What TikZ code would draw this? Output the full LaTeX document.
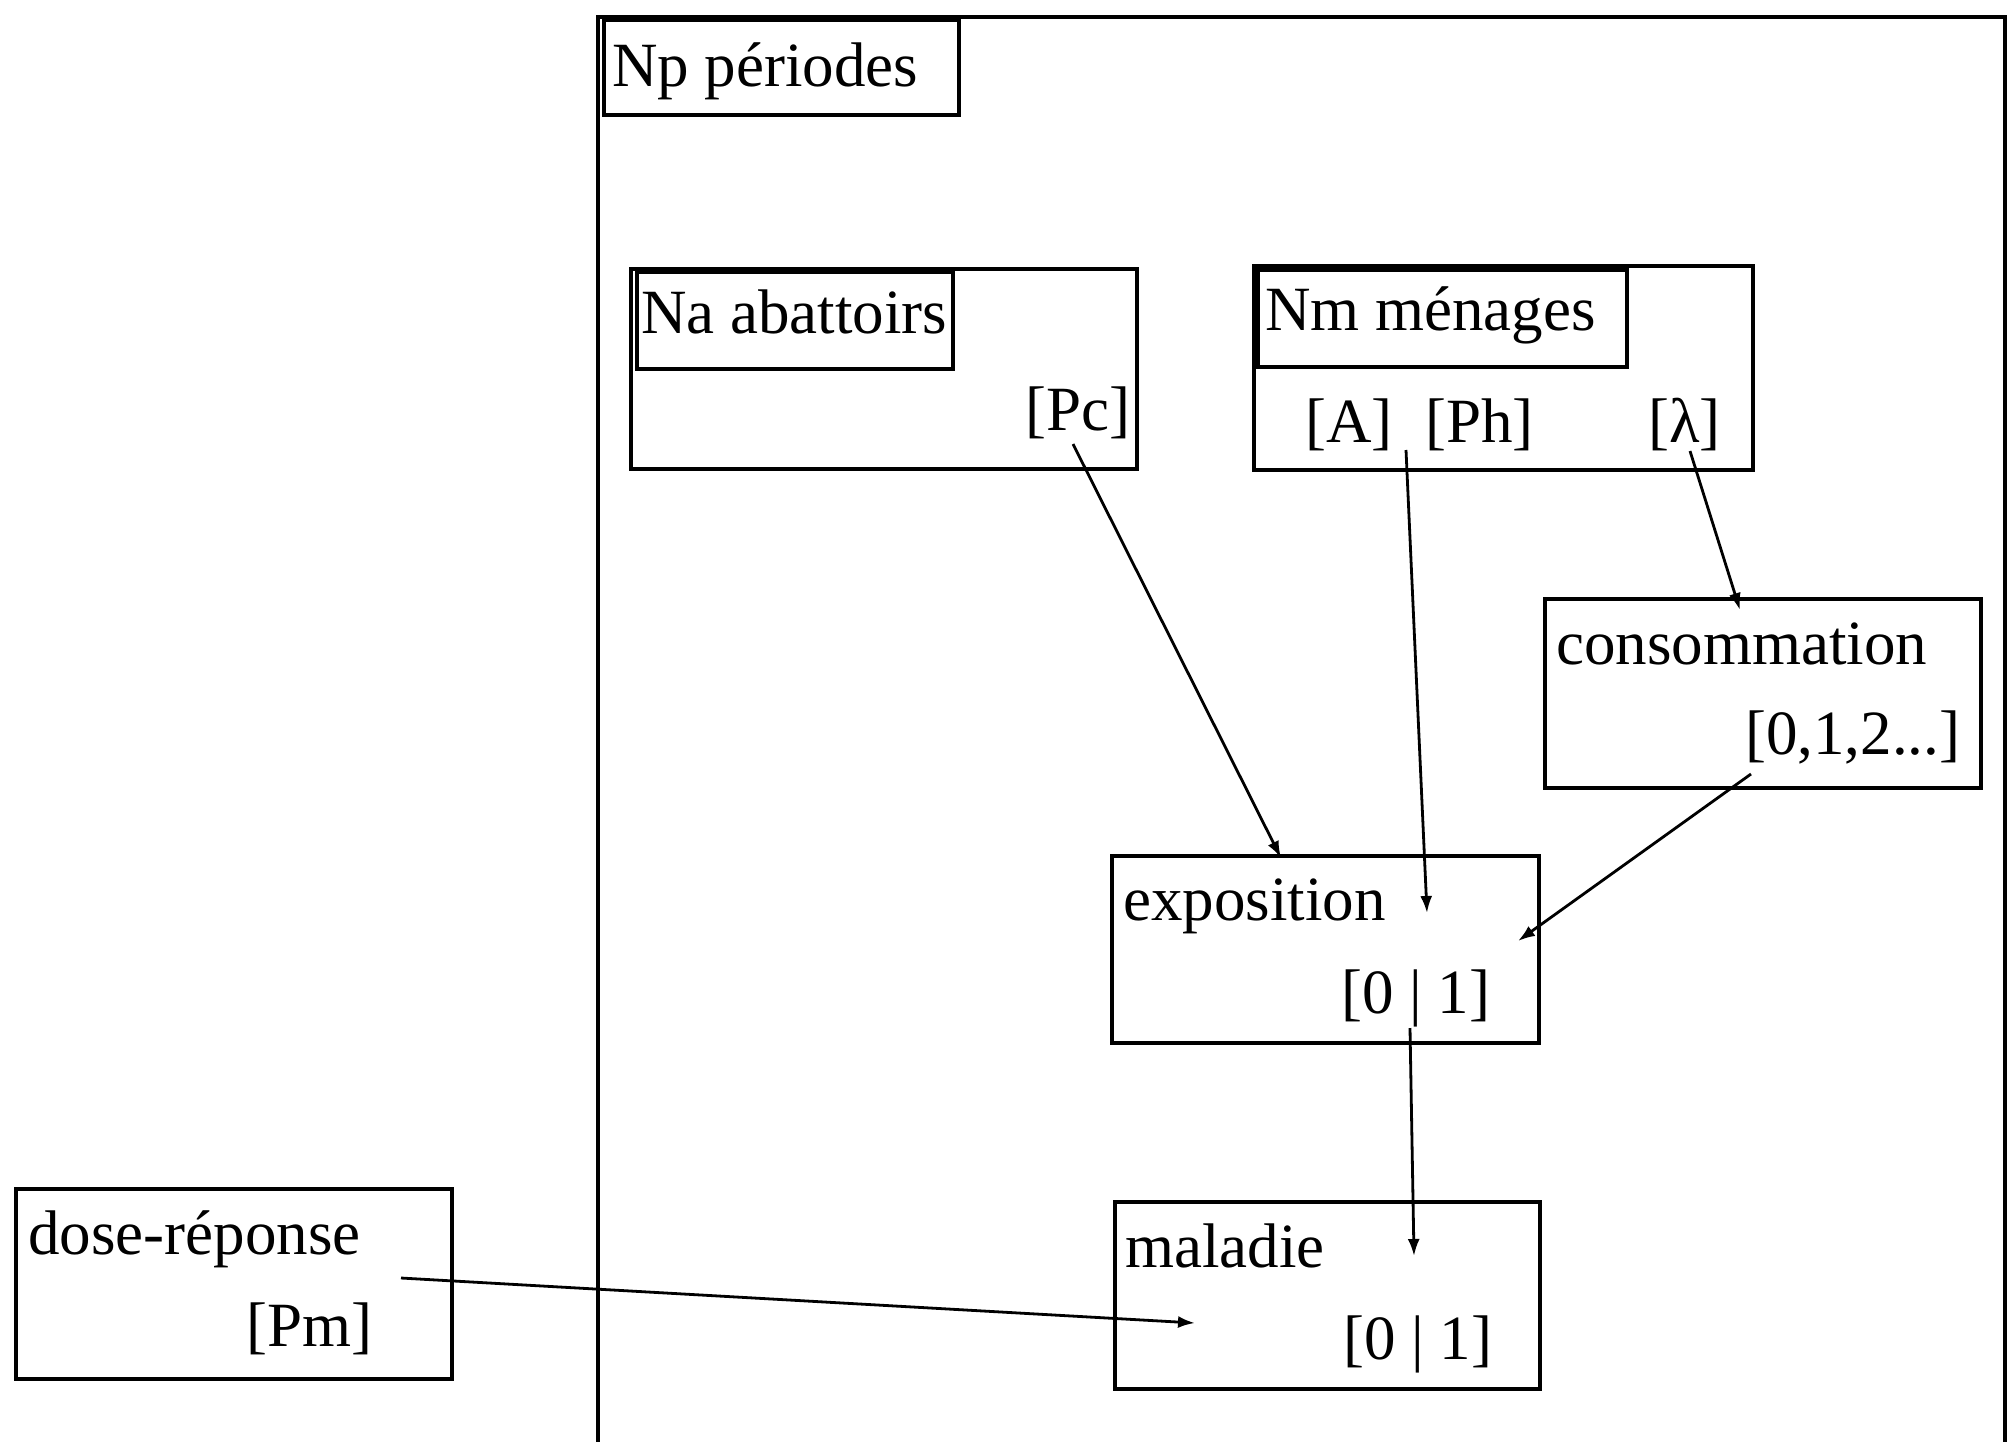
\documentclass[tikz,border=0pt]{standalone}
\usepackage{fontspec}
\setmainfont{Liberation Serif}
\usetikzlibrary{arrows.meta}
\tikzset{
  frame/.style={draw, line width=3.5pt},
  boxed/.style={draw, line width=3.5pt, rectangle, inner sep=0pt},
  lbl/.style={anchor=base west, inner sep=0pt, font=\fontsize{63}{75}\selectfont},
  conn/.style={line width=2.8pt, -{Latex[length=17pt,width=12pt]}}
}
\begin{document}
\begin{tikzpicture}[x=1pt,y=-1pt]
\useasboundingbox (0,0) rectangle (2010,1441);
% outer plate
\draw[frame] (598,1450) -- (598,17) -- (2005,17) -- (2005,1450);
\node[boxed, anchor=north west, minimum width=355pt, minimum height=95pt] (np) at (602,18) {};
\node[lbl] (nptxt) at (612,86) {Np périodes};
% abattoirs
\node[boxed, anchor=north west, minimum width=506pt, minimum height=200pt] (abat) at (629,267) {};
\node[boxed, anchor=north west, minimum width=316pt, minimum height=97pt] (abatin) at (635,270) {};
\node[lbl] (abattxt) at (641,333) {Na abattoirs};
\node[lbl] (pc) at (1025,430) {[Pc]};
% menages
\node[boxed, anchor=north west, minimum width=499pt, minimum height=204pt] (men) at (1252,264) {};
\node[boxed, anchor=north west, minimum width=369pt, minimum height=97pt] (menin) at (1256,268) {};
\node[lbl] (mentxt) at (1265,330) {Nm ménages};
\node[lbl] (a) at (1305,442) {[A]};
\node[lbl] (ph) at (1425,442) {[Ph]};
\node[lbl] (lam) at (1648,442) {[λ]};
% consommation
\node[boxed, anchor=north west, minimum width=436pt, minimum height=189pt] (cons) at (1543,597) {};
\node[lbl] (constxt) at (1556,664) {consommation};
\node[lbl] (consval) at (1745,754) {[0,1,2...]};
% exposition
\node[boxed, anchor=north west, minimum width=427pt, minimum height=187pt] (expo) at (1110,854) {};
\node[lbl] (expotxt) at (1123,920) {exposition};
\node[lbl] (expoval) at (1341,1013) {[0 | 1]};
% maladie
\node[boxed, anchor=north west, minimum width=425pt, minimum height=187pt] (mal) at (1113,1200) {};
\node[lbl] (maltxt) at (1125,1267) {maladie};
\node[lbl] (malval) at (1343,1359) {[0 | 1]};
% dose-reponse
\node[boxed, anchor=north west, minimum width=436pt, minimum height=190pt] (dose) at (14,1187) {};
\node[lbl] (dosetxt) at (28,1254) {dose-réponse};
\node[lbl] (pm) at (246,1346) {[Pm]};
% connector end points
\coordinate (pcS) at (1073,444);
\coordinate (expoA) at (1281,858);
\coordinate (aphS) at (1406,450);
\coordinate (expoB) at (1427,913);
\coordinate (lamS) at (1690,451);
\coordinate (consA) at (1740,610);
\coordinate (consS) at (1751,774);
\coordinate (expoC) at (1518,941);
\coordinate (expoS) at (1410,1028);
\coordinate (malA) at (1414,1256);
\coordinate (doseS) at (401,1278);
\coordinate (malB) at (1195,1323);
% connectors
\draw[conn] (pcS) -- (expoA);
\draw[conn] (aphS) -- (expoB);
\draw[conn] (lamS) -- (consA);
\draw[conn] (consS) -- (expoC);
\draw[conn] (expoS) -- (malA);
\draw[conn] (doseS) -- (malB);
\end{tikzpicture}
\end{document}
